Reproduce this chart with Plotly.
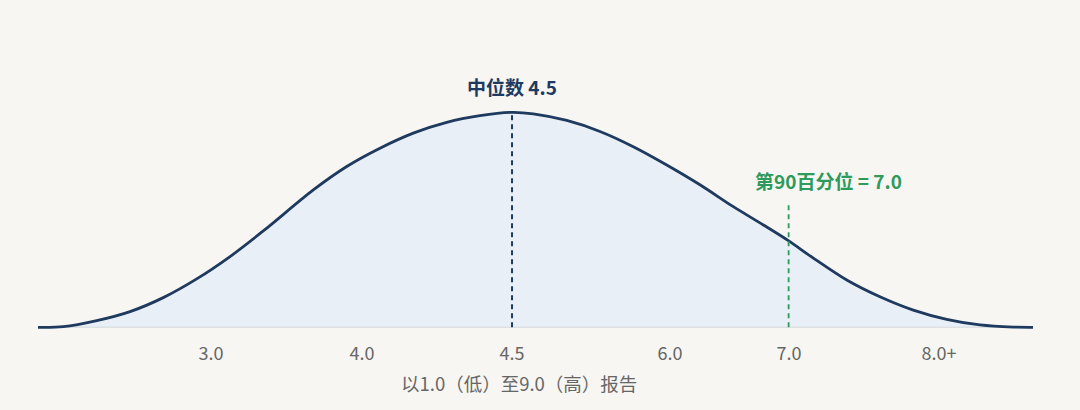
import plotly.graph_objects as go

# 曲线读数：横向位置(0-100, 绘图区宽度百分比) / 相对高度(峰值=1)
curve_x = [0, 2.54, 5.90, 9.25, 12.59, 15.95, 19.30, 22.64, 27.67, 31.03,
           34.37, 37.72, 41.08, 44.42, 47.64, 49.78, 53.14, 56.48, 59.83, 63.19,
           66.53, 69.88, 72.90, 75.41, 77.92, 81.28, 84.62, 87.97, 91.33, 94.67,
           98.02, 100]
curve_y = [0, 0.003, 0.031, 0.073, 0.138, 0.225, 0.329, 0.448, 0.639, 0.748,
           0.833, 0.903, 0.953, 0.984, 1.0, 0.993, 0.962, 0.911, 0.840, 0.755,
           0.663, 0.561, 0.476, 0.403, 0.322, 0.220, 0.142, 0.080, 0.037, 0.011,
           0.001, 0]

tick_pos = [17.39, 32.56, 47.64, 63.52, 75.48, 90.55]
tick_labels = ["3.0", "4.0", "4.5", "6.0", "7.0", "8.0+"]

median_pos = 47.64
median_label = "中位数 4.5"
p90_pos = 75.44
p90_top = 0.585
p90_label = "第90百分位 = 7.0"
axis_title = "以1.0（低）至9.0（高）报告"

NAVY = "#1e3a5f"
GREEN = "#2e9a5c"
BG = "#f7f6f2"
FONT = "Noto Sans CJK SC"

fig = go.Figure()
fig.add_trace(go.Scatter(
    x=curve_x, y=curve_y, mode="lines",
    line=dict(color=NAVY, width=2.8, shape="spline", smoothing=0.9),
    fill="tozeroy", fillcolor="rgba(226,236,248,0.7)",
    hoverinfo="skip", showlegend=False,
))

# 中位数虚线
fig.add_trace(go.Scatter(
    x=[median_pos, median_pos], y=[0, 1.0], mode="lines",
    line=dict(color=NAVY, width=2, dash="5px,4px"),
    hoverinfo="skip", showlegend=False,
))
# 第90百分位虚线
fig.add_trace(go.Scatter(
    x=[p90_pos, p90_pos], y=[0, p90_top], mode="lines",
    line=dict(color=GREEN, width=1.8, dash="5px,4px"),
    hoverinfo="skip", showlegend=False,
))

fig.add_annotation(x=median_pos, y=1.0, yshift=26, text="<b>%s</b>" % median_label,
                   showarrow=False, font=dict(family=FONT, size=19, color=NAVY))
fig.add_annotation(x=79.4, y=p90_top, yshift=21, text="<b>%s</b>" % p90_label,
                   showarrow=False, font=dict(family=FONT, size=19, color=GREEN))
fig.add_annotation(x=48.34, xref="x", y=-0.171, yref="paper", yanchor="middle",
                   text=axis_title, showarrow=False,
                   font=dict(family=FONT, size=18.5, color="#666666"))

fig.update_layout(
    width=1080, height=410,
    margin=dict(l=38, r=47, t=20, b=80),
    paper_bgcolor=BG, plot_bgcolor=BG,
    font=dict(family=FONT, color="#666666"),
)
fig.update_xaxes(
    range=[0, 100], showgrid=False, zeroline=False, showline=False,
    tickmode="array", tickvals=tick_pos, ticktext=tick_labels,
    ticks="", tickfont=dict(family=FONT, size=18, color="#666666"),
    ticklabelstandoff=11,
)
fig.update_yaxes(
    range=[-0.0126, 1.4293], showgrid=False, showticklabels=False,
    zeroline=True, zerolinecolor="#dddddd", zerolinewidth=1.5,
)

# 去掉页面默认边距，让图从左上角开始
fig.write_html("out.html", config={"displayModeBar": False},
               post_script="document.body.style.margin='0';")
